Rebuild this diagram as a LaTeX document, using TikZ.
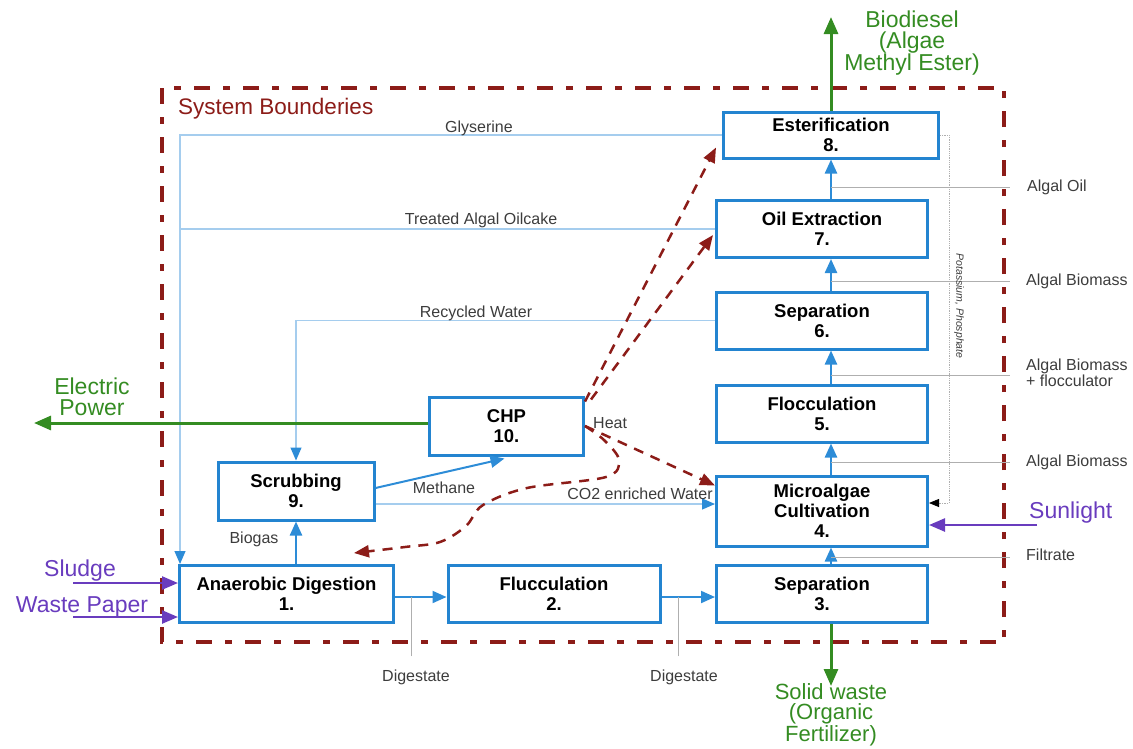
\documentclass[tikz,border=0pt]{standalone}
\usepackage{fontspec}
\setmainfont{Liberation Sans}
\usetikzlibrary{arrows.meta,calc}

\definecolor{boxblue}{RGB}{35,132,208}
\definecolor{pipeblue}{RGB}{165,205,238}
\definecolor{tipblue}{RGB}{45,140,215}
\definecolor{bordred}{RGB}{140,28,24}
\definecolor{outgreen}{RGB}{52,140,34}
\definecolor{inpurple}{RGB}{105,60,190}
\definecolor{labelgray}{RGB}{60,60,60}
\definecolor{leadgray}{RGB}{175,175,175}

\begin{document}
\begin{tikzpicture}[x=1pt,y=-1pt,
  proc/.style={draw=boxblue, line width=3pt, fill=white, align=center,
    font=\fontsize{18.5}{20}\selectfont\bfseries, inner sep=0pt},
  flowarrow/.style={tipblue, line width=2.4pt, -{Triangle[length=14pt,width=12pt]}},
  pipe/.style={pipeblue, line width=1.2pt},
  pipearrow/.style={pipe, -{Triangle[length=13pt,width=11pt,color=tipblue]}},
  lead/.style={leadgray, line width=1pt},
  lbl/.style={text=labelgray, font=\fontsize{16}{14}\selectfont, inner sep=0pt, align=left},
  heat/.style={bordred, line width=2.5pt, dash pattern=on 10pt off 8pt,
    -{Triangle[length=15pt,width=12pt]}},
  product/.style={outgreen, line width=3pt, -{Triangle[length=17pt,width=14pt]}},
  feed/.style={inpurple, line width=2.5pt, -{Triangle[length=16pt,width=13pt]}},
  greenlbl/.style={text=outgreen, font=\fontsize{23}{21}\selectfont, align=center, inner sep=0pt},
  purplelbl/.style={text=inpurple, font=\fontsize{23}{22}\selectfont, inner sep=0pt},
  boundary/.style={bordred, line width=4pt, dash pattern=on 16pt off 13pt on 7pt off 13pt}
]
\useasboundingbox (0,0) rectangle (1133,748);

% system boundary
\draw[boundary] (162,88) rectangle (1004,642);
\node[text=bordred, font=\fontsize{22.5}{24}\selectfont, anchor=west, inner sep=0pt]
  (sysb) at (178,109) {System Bounderies};

% process units
\node[proc, minimum width=215pt, minimum height=46pt] (est) at (831,135) {Esterification\\8.};
\node[proc, minimum width=211pt, minimum height=57pt] (oil) at (822,229) {Oil Extraction\\7.};
\node[proc, minimum width=211pt, minimum height=57pt] (sepsix) at (822,320.5) {Separation\\6.};
\node[proc, minimum width=211pt, minimum height=57pt] (floc) at (822,413.5) {Flocculation\\5.};
\node[proc, minimum width=211pt, minimum height=70pt] (cult) at (822,511) {Microalgae\\Cultivation\\4.};
\node[proc, minimum width=211pt, minimum height=57pt] (septhree) at (822,594) {Separation\\3.};
\node[proc, minimum width=212pt, minimum height=57pt] (fluc) at (554,594) {Flucculation\\2.};
\node[proc, minimum width=214pt, minimum height=57pt] (ad) at (286.5,594) {Anaerobic Digestion\\1.};
\node[proc, minimum width=156pt, minimum height=58pt] (scrub) at (296,491) {Scrubbing\\9.};
\node[proc, minimum width=154pt, minimum height=58pt] (chp) at (506.5,426) {CHP\\10.};

% main algae train
\draw[flowarrow] (septhree.north -| est) -- (cult.south -| est);
\draw[flowarrow] (cult.north -| est) -- (floc.south -| est);
\draw[flowarrow] (floc.north -| est) -- (sepsix.south -| est);
\draw[flowarrow] (sepsix.north -| est) -- (oil.south -| est);
\draw[flowarrow] (oil.north -| est) -- (est.south);

% stream names on the right
\node[lbl, anchor=west] (loil) at (1027,187) {Algal Oil};
\node[lbl, anchor=west] (lbmone) at (1026,281) {Algal Biomass};
\node[lbl, anchor=west] (lbmfl) at (1026,373) {Algal Biomass\\+ flocculator};
\node[lbl, anchor=west] (lbmtwo) at (1026,462) {Algal Biomass};
\node[lbl, anchor=west] (lfil) at (1026,555) {Filtrate};
\draw[lead] (loil.west -| est) -- ($(loil.west)+(-17,0)$);
\draw[lead] (lbmone.west -| est) -- ($(lbmone.west)+(-16,0)$);
\draw[lead] ($(lbmfl.west -| est)+(0,2)$) -- ($(lbmfl.west)+(-16,2)$);
\draw[lead] (lbmtwo.west -| est) -- ($(lbmtwo.west)+(-16,0)$);
\draw[lead] ($(lfil.west -| est)+(0,2)$) -- ($(lfil.west)+(-16,2)$);

% nutrient return
\coordinate (kp) at (949,503);
\draw[leadgray, line width=0.8pt, densely dotted, -{Triangle[length=10pt,width=8pt,color=black]}]
  (est.east) -| (kp) -- (kp -| cult.east);
\node[rotate=-90, text=labelgray, font=\itshape\fontsize{10.5}{12}\selectfont, inner sep=0pt]
  (lkp) at (959,306) {Potassium, Phosphate};

% digestate line
\draw[flowarrow, line width=2pt] ($(ad.east)+(0,3)$) -- ($(fluc.west)+(0,3)$);
\draw[flowarrow, line width=2pt] ($(fluc.east)+(0,3)$) -- ($(septhree.west)+(0,3)$);
\node[lbl] (digone) at (416,677) {Digestate};
\node[lbl] (digtwo) at (684,677) {Digestate};
\draw[lead] ($(digone.north)+(-5,-13)$) -- ($(digone.north |- ad.east)+(-5,3)$);
\draw[lead] ($(digtwo.north)+(-6,-13)$) -- ($(digtwo.north |- fluc.east)+(-6,3)$);

% biogas path
\draw[flowarrow] (ad.north -| scrub) -- (scrub.south);
\node[lbl] (lbiogas) at (254,539) {Biogas};
\draw[flowarrow, line width=2pt] ($(scrub.east)+(0,-3)$) -- ($(chp.south)+(-2,2)$);
\node[lbl] (lmeth) at (444,488) {Methane};
\draw[pipearrow] ($(scrub.east)+(0,13)$) -- ($(cult.west)+(0,-7)$);
\node[lbl] (lco) at (640,494) {CO2 enriched Water};

% return streams
\coordinate (gx) at ($(ad.north west)+(2,0)$);
\draw[pipearrow] (est.west) -| (gx);
\draw[pipe] (oil.west) -- (oil.west -| gx);
\draw[pipearrow] (sepsix.west) -| (scrub.north);
\node[lbl] (lgly) at (479,128) {Glyserine};
\node[lbl] (ltao) at (481,220) {Treated Algal Oilcake};
\node[lbl] (lrw) at (476,313) {Recycled Water};

% heat from CHP
\draw[heat] ($(chp.north east)+(0,6)$) -- ($(est.south west)+(-6,-12)$);
\draw[heat] ($(chp.north east)+(6,4)$) -- ($(oil.west)+(-2,6)$);
\draw[heat] (chp.east) -- ($(cult.north west)+(0,11)$);
\coordinate (adheat) at (354,553);
\draw[heat] plot[smooth, tension=0.55] coordinates
  {(chp.east) (604,440) (619,460) (606,477) (527,488) (483,505) (466,526) (440,542) (405,547) (adheat)};
\node[lbl, anchor=west] (lheat) at (593,423) {Heat};

% outputs
\coordinate (elecend) at (34,423);
\draw[product] (chp.west |- elecend) -- (elecend);
\node[greenlbl] (lelec) at (92,397) {Electric\\Power};
\coordinate (bioend) at (831,17);
\draw[product] (est.north) -- (bioend);
\node[greenlbl] (lbio) at (912,43) {Biodiesel\\(Algae\\Methyl Ester)};
\coordinate (solidend) at (831,686);
\draw[product] (septhree.south -| est) -- (solidend);
\node[greenlbl, font=\fontsize{22}{20}\selectfont] (lsolid) at (831,715) {Solid waste\\(Organic\\Fertilizer)};

% inputs
\coordinate (sunsrc) at (1037,525);
\draw[feed] (sunsrc) -- (sunsrc -| cult.east);
\node[purplelbl, anchor=west] (lsun) at (1029,513) {Sunlight};
\coordinate (sludgesrc) at (73,583);
\draw[feed] (sludgesrc) -- (sludgesrc -| ad.west);
\node[purplelbl] (lsludge) at (80,571) {Sludge};
\coordinate (papersrc) at (73,617);
\draw[feed] (papersrc) -- (papersrc -| ad.west);
\node[purplelbl] (lpaper) at (82,607) {Waste Paper};
\end{tikzpicture}
\end{document}
